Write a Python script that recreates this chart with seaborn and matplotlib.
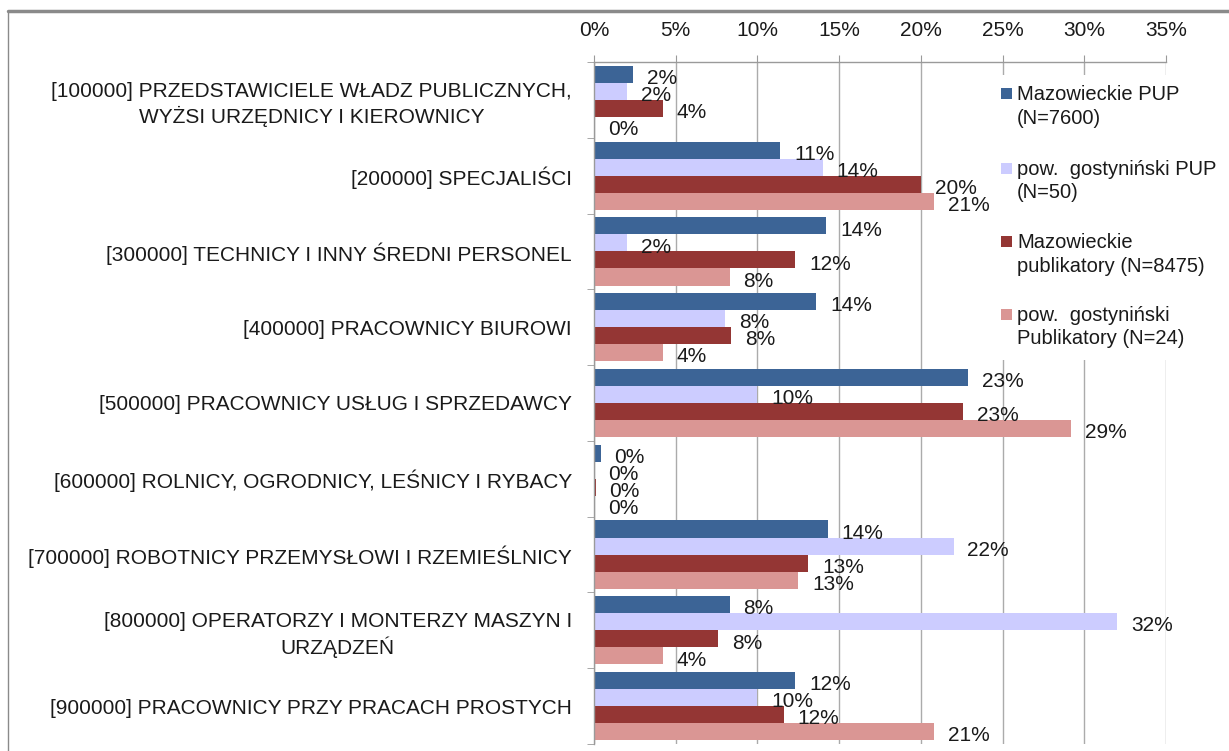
import numpy as np
import pandas as pd
import matplotlib.pyplot as plt
import seaborn as sns
from matplotlib.patches import Rectangle
from matplotlib.lines import Line2D

W, H = 1229, 751

categories = [
    "[100000] PRZEDSTAWICIELE WŁADZ PUBLICZNYCH,\nWYŻSI URZĘDNICY I KIEROWNICY",
    "[200000] SPECJALIŚCI",
    "[300000] TECHNICY I INNY ŚREDNI PERSONEL",
    "[400000] PRACOWNICY BIUROWI",
    "[500000] PRACOWNICY USŁUG I SPRZEDAWCY",
    "[600000] ROLNICY, OGRODNICY, LEŚNICY I RYBACY",
    "[700000] ROBOTNICY PRZEMYSŁOWI I RZEMIEŚLNICY",
    "[800000] OPERATORZY I MONTERZY MASZYN I\nURZĄDZEŃ",
    "[900000] PRACOWNICY PRZY PRACACH PROSTYCH",
]
series = [
    "Mazowieckie PUP\n(N=7600)",
    "pow.  gostyniński PUP\n(N=50)",
    "Mazowieckie\npublikatory (N=8475)",
    "pow.  gostyniński\nPublikatory (N=24)",
]
mazowieckie_pup = [2.4, 11.4, 14.2, 13.6, 22.9, 0.4, 14.3, 8.3, 12.3]
gostyninski_pup = [2.0, 14.0, 2.0, 8.0, 10.0, 0.0, 22.0, 32.0, 10.0]
mazowieckie_publ = [4.2, 20.0, 12.3, 8.4, 22.6, 0.1, 13.1, 7.6, 11.6]
gostyninski_publ = [0.0, 20.8, 8.3, 4.2, 29.2, 0.0, 12.5, 4.2, 20.8]
x_ticks = [0, 5, 10, 15, 20, 25, 30, 35]

colors = ["#3C6496", "#CCCCFF", "#943634", "#DA9694"]
text_color = "#1a1a1a"
FS = 15

rows = []
for s, vals in zip(series, [mazowieckie_pup, gostyninski_pup, mazowieckie_publ, gostyninski_publ]):
    for c, v in zip(categories, vals):
        rows.append({"category": c, "series": s, "value": v})
df = pd.DataFrame(rows)

sns.set_style("white")
plt.rcParams["font.family"] = ["Liberation Sans", "DejaVu Sans"]

fig = plt.figure(figsize=(W / 100, H / 100), dpi=100)
ax = fig.add_axes([594 / W, 1 - 744 / H, (1166 - 594) / W, (744 - 62) / H])

sns.barplot(
    data=df, y="category", x="value", hue="series", orient="h",
    palette=colors, width=0.9, saturation=1, legend=False, ax=ax,
    order=categories, hue_order=series, errorbar=None, linewidth=0,
)

ax.set_xlim(0, 35)
ax.set_ylim(len(categories) - 0.5, -0.5)
ax.set_xticks(x_ticks)
ax.set_xticklabels([f"{t}%" for t in x_ticks])
ax.xaxis.tick_top()
ax.grid(axis="x", color="#ABABAB", linewidth=1)
ax.set_axisbelow(True)
ax.set_xlabel("")
ax.set_ylabel("")

for side in ["bottom", "right"]:
    ax.spines[side].set_visible(False)
for side in ["top", "left"]:
    ax.spines[side].set_color("#9A9A9A")
    ax.spines[side].set_linewidth(1)

ax.tick_params(axis="x", which="major", top=True, length=5, color="#9A9A9A",
               pad=11, labelsize=FS, labelcolor=text_color)
ax.tick_params(axis="y", which="major", length=0, pad=16, labelsize=FS, labelcolor=text_color)
ax.set_yticks(np.arange(-0.5, len(categories) + 0.5, 1), minor=True)
ax.tick_params(axis="y", which="minor", length=5, color="#9A9A9A", left=True)
for lab in ax.get_yticklabels():
    lab.set_multialignment("center")
    lab.set_linespacing(1.3)

# data labels (Excel style, rounded half up)
for cont in ax.containers:
    for bar in cont:
        v = bar.get_width()
        yc = bar.get_y() + bar.get_height() / 2
        ax.annotate(f"{int(np.floor(v + 0.5))}%", (v, yc), xytext=(10, -3),
                    textcoords="offset points", ha="left", va="center",
                    fontsize=FS, color=text_color)

# legend (white box over the grid)
fig.patches.append(Rectangle((990 / W, 1 - 360 / H), 235 / W, 285 / H,
                             transform=fig.transFigure, facecolor="white",
                             edgecolor="none", zorder=5))
leg_y = [95, 170, 243, 316]
for s, c, y in zip(series, colors, leg_y):
    fig.patches.append(Rectangle((1001 / W, 1 - (y + 4) / H), 11 / W, 11 / H,
                                 transform=fig.transFigure, facecolor=c,
                                 edgecolor="none", zorder=6))
    fig.text(1017 / W, 1 - (y - 10) / H, s, ha="left", va="top", fontsize=FS - 0.5,
             color=text_color, linespacing=1.3, zorder=7)

# outer chart frame
fig.add_artist(Line2D([8 / W, 1], [1 - 11 / H, 1 - 11 / H], transform=fig.transFigure,
                      color="#8A8A8A", linewidth=2.5))
fig.add_artist(Line2D([8 / W, 8 / W], [0, 1 - 11 / H], transform=fig.transFigure,
                      color="#8A8A8A", linewidth=1))

fig.savefig("out.png", dpi=100, facecolor="white")
